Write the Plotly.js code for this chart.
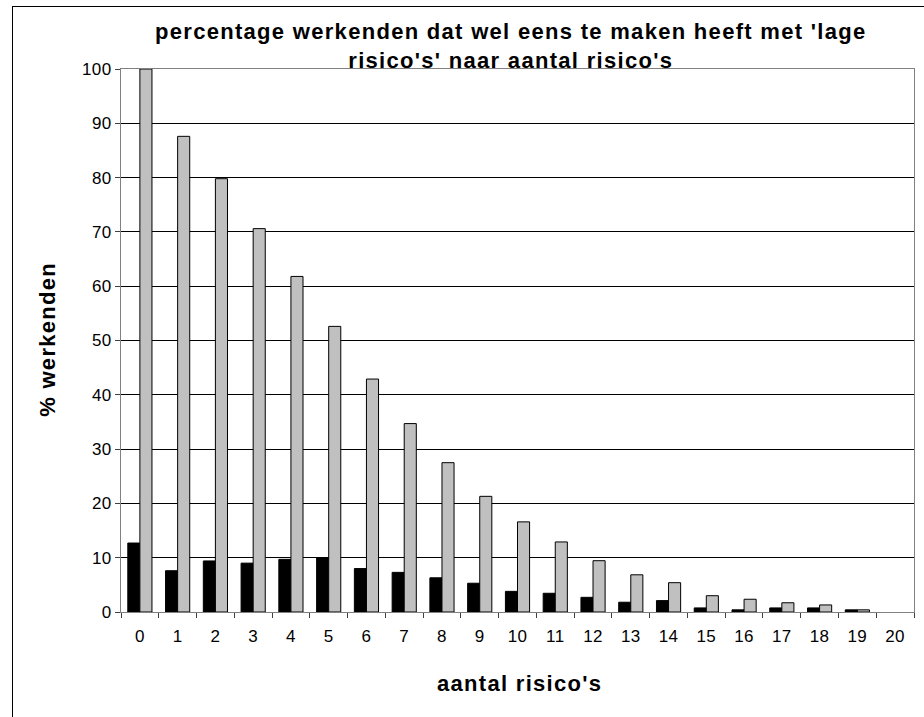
<!DOCTYPE html>
<html><head><meta charset="utf-8">
<script src="https://cdn.plot.ly/plotly-3.0.1.min.js"></script>
<style>
html,body{margin:0;padding:0;background:#fff;}
#chart{width:924px;height:717px;}
#frame{position:absolute;left:12px;top:6px;width:1000px;height:1000px;border-left:1px solid #000;border-top:1px solid #000;pointer-events:none;}
.annotation-text{letter-spacing:1.3px;}
.xtick text,.ytick text{letter-spacing:0.4px;}
</style></head>
<body>
<div id="chart"></div>
<div id="frame"></div>
<script>
const categories = ['0','1','2','3','4','5','6','7','8','9','10','11','12','13','14','15','16','17','18','19','20'];
const seriesBlack = [12.7, 7.6, 9.4, 9.0, 9.7, 10.0, 8.0, 7.3, 6.3, 5.3, 3.8, 3.45, 2.7, 1.8, 2.1, 0.75, 0.4, 0.75, 0.75, 0.4, 0];
const seriesGray = [100, 87.6, 79.8, 70.6, 61.8, 52.6, 42.9, 34.7, 27.5, 21.3, 16.6, 12.9, 9.45, 6.85, 5.4, 3.0, 2.35, 1.7, 1.3, 0.4, 0];
const yTicks = [0,10,20,30,40,50,60,70,80,90,100];
const titleText = "percentage werkenden dat wel eens te maken heeft met 'lage<br>risico's' naar aantal risico's";
const xTitle = "aantal risico's";
const yTitle = "% werkenden";

const fam = 'Liberation Sans, Arial, sans-serif';
const f = (size, weight) => ({family: fam, color: '#000', size: size, weight: weight || 'normal'});
const lw = v => v.map(d => d > 0 ? 1 : 0);
const data = [
  {type:'bar', x:categories, y:seriesBlack, marker:{color:'#000000', line:{color:'#000', width:lw(seriesBlack)}}},
  {type:'bar', x:categories, y:seriesGray, marker:{color:'#C0C0C0', line:{color:'#000', width:lw(seriesGray)}}}
];
const layout = {
  width:924, height:717,
  margin:{l:121, r:10, t:69, b:105},
  paper_bgcolor:'rgba(0,0,0,0)', plot_bgcolor:'#fff',
  showlegend:false,
  barmode:'group', bargap:0.36, bargroupgap:0,
  font:f(17),
  xaxis:{type:'category', tickson:'boundaries', ticks:'outside', ticklen:5, tickcolor:'#404040',
    showline:true, linecolor:'#808080', linewidth:1, mirror:true, showgrid:false,
    ticklabelstandoff:9, tickfont:f(17)},
  yaxis:{range:[0,100], tickvals:yTicks, ticks:'outside', ticklen:5, tickcolor:'#404040',
    showline:true, linecolor:'#808080', linewidth:1, mirror:true,
    showgrid:true, gridcolor:'#000', gridwidth:1, zeroline:false,
    tickfont:f(17)},
  annotations:[
    {text:'<b>'+titleText+'</b>', xref:'paper', yref:'paper', x:0.4918, y:1.0424, xanchor:'center', yanchor:'middle', showarrow:false, font:f(22)},
    {text:'<b>'+xTitle+'</b>', xref:'paper', yref:'paper', x:0.502, y:-0.1308, xanchor:'center', yanchor:'middle', showarrow:false, font:f(22)},
    {text:'<b>'+yTitle+'</b>', xref:'paper', yref:'paper', x:-0.0921, y:0.503, xanchor:'center', yanchor:'middle', textangle:-90, showarrow:false, font:f(22)}
  ]
};
Plotly.newPlot('chart', data, layout, {displayModeBar:false, staticPlot:true});
</script>
</body></html>
